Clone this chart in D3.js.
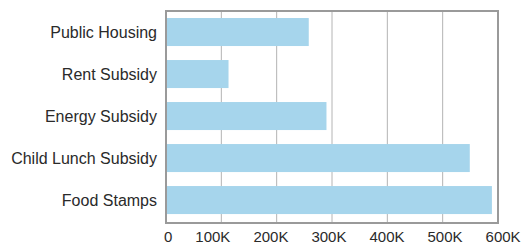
<!DOCTYPE html>
<html>
<head>
<meta charset="utf-8">
<script src="https://cdn.jsdelivr.net/npm/d3@7"></script>
<style>
body { margin: 0; background: #fff; }
text { font-family: "Liberation Sans", Arial, sans-serif; }
</style>
</head>
<body>
<svg></svg>
<script>
var categories = ["Public Housing", "Rent Subsidy", "Energy Subsidy", "Child Lunch Subsidy", "Food Stamps"];
var values = [258000, 113000, 290000, 549000, 589000];
var tickValues = [0, 100000, 200000, 300000, 400000, 500000, 600000];
var tickLabels = ["0", "100K", "200K", "300K", "400K", "500K", "600K"];

var screen = {width: 525, height: 245};
var plot = {left: 166, right: 498, top: 11, bottom: 223};

var svg = d3.select("svg")
    .attr("width", screen.width)
    .attr("height", screen.height);

var xScale = d3.scaleLinear()
    .domain([0, 600000])
    .range([plot.left, plot.right]);

var yScale = d3.scaleBand()
    .domain(categories)
    .range([plot.top, plot.bottom])
    .paddingInner(0.333)
    .paddingOuter(0.19)
    .align(0.44);

// grid lines
svg.append("g")
    .selectAll("line")
    .data(tickValues.slice(1, -1))
    .enter()
    .append("line")
    .attr("x1", function(d) { return xScale(d); })
    .attr("x2", function(d) { return xScale(d); })
    .attr("y1", plot.top)
    .attr("y2", plot.bottom)
    .attr("stroke", "#b4b4b4")
    .attr("stroke-width", 1);

// bars
svg.append("g")
    .selectAll("rect")
    .data(values)
    .enter()
    .append("rect")
    .attr("fill", "#a6d5ec")
    .attr("x", xScale(0) + 1)
    .attr("y", function(d, i) { return yScale(categories[i]); })
    .attr("width", function(d) { return xScale(d) - xScale(0) - 1; })
    .attr("height", yScale.bandwidth());

// frame
svg.append("rect")
    .attr("x", plot.left)
    .attr("y", plot.top)
    .attr("width", plot.right - plot.left)
    .attr("height", plot.bottom - plot.top)
    .attr("fill", "none")
    .attr("stroke", "#9a9a9a")
    .attr("stroke-width", 2);

// category labels
svg.append("g")
    .selectAll("text")
    .data(categories)
    .enter()
    .append("text")
    .attr("x", 157)
    .attr("y", function(d) { return yScale(d) + yScale.bandwidth() / 2; })
    .attr("dy", "0.4em")
    .attr("text-anchor", "end")
    .attr("font-size", 16)
    .attr("fill", "#2a2a2a")
    .text(function(d) { return d; });

// x tick labels, laid out one after another with a fixed gap
var tickText = svg.append("g")
    .selectAll("text")
    .data(tickValues)
    .enter()
    .append("text")
    .attr("y", 242)
    .attr("font-size", 15)
    .attr("fill", "#2a2a2a")
    .text(function(d, i) { return tickLabels[i]; });

var cursor = xScale(0) - 2;
tickText.each(function() {
    d3.select(this).attr("x", cursor);
    cursor += this.getComputedTextLength() + 23;
});
</script>
</body>
</html>
